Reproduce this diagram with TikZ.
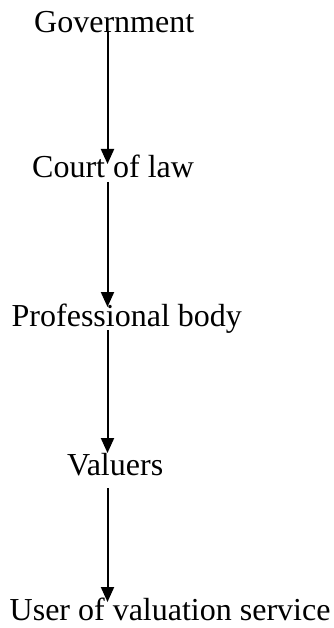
\documentclass[tikz,border=0pt]{standalone}
\usepackage{fontspec}
\setmainfont{Liberation Serif}
\usetikzlibrary{arrows.meta}
\begin{document}
\begin{tikzpicture}[x=1pt,y=1pt,
  level/.style={anchor=base west,inner sep=0pt,font=\fontsize{32}{36}\selectfont},
  flow/.style={line width=2pt,-{Triangle[length=15pt,width=13pt]}}]
  \useasboundingbox (0,0) rectangle (333,-628);
  % stages of the chain, top to bottom
  \node[level] (gov)   at (34,-33)   {Government};
  \node[level] (court) at (32,-178)  {Court of law};
  \node[level] (prof)  at (11.5,-326) {Professional body};
  \node[level] (val)   at (67,-475)  {Valuers};
  \node[level] (user)  at (9.5,-620) {User of valuation service};
  % common vertical line carrying the arrows
  \coordinate (spine) at (107.5,0);
  \draw[flow] ([yshift=1pt]spine |- gov.base)    -- ([yshift=14pt]spine |- court.base);
  \draw[flow] ([yshift=-4pt]spine |- court.base) -- ([yshift=19pt]spine |- prof.base);
  \draw[flow] ([yshift=-4pt]spine |- prof.base)  -- ([yshift=22pt]spine |- val.base);
  \draw[flow] ([yshift=-13pt]spine |- val.base)  -- ([yshift=18pt]spine |- user.base);
\end{tikzpicture}
\end{document}
